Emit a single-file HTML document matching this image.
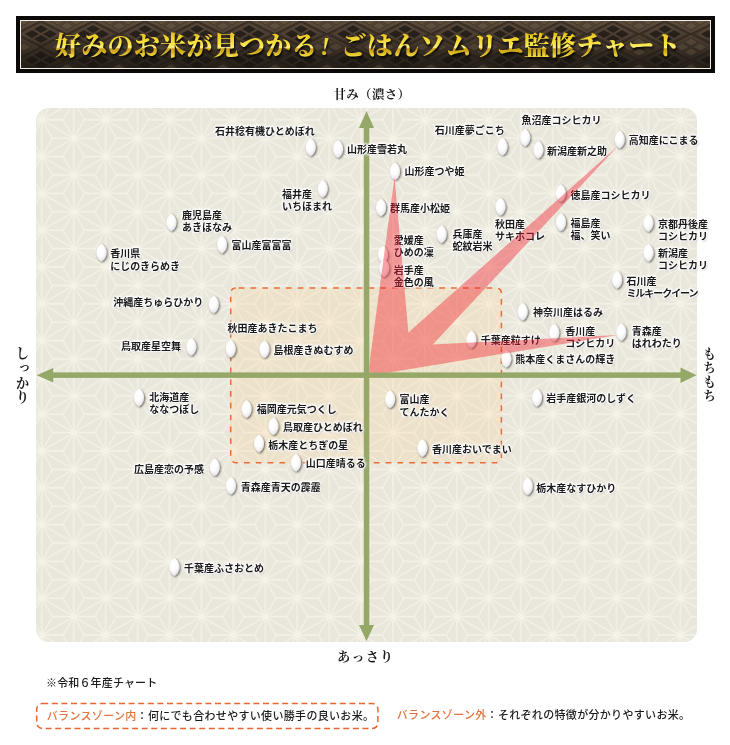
<!DOCTYPE html>
<html lang="ja"><head><meta charset="utf-8"><title>ごはんソムリエ監修チャート</title>
<style>
html,body{margin:0;padding:0;background:#fff;}
body{width:730px;height:745px;position:relative;overflow:hidden;font-family:"Liberation Sans","Noto Sans CJK JP",sans-serif;}
.abs{position:absolute;}
#banner{left:16px;top:16px;width:698.5px;height:56.5px;background:#0b0907;}
#banner .in{position:absolute;left:3.5px;top:3.5px;right:3.5px;bottom:3.5px;border:1px solid #f4efe6;overflow:hidden;background:linear-gradient(#5b4b3b 0%,#4a3c30 35%,#30281f 75%,#26201a 100%);}
#title{left:54.9px;top:19.4px;width:660px;height:56px;line-height:56px;text-align:left;white-space:nowrap;
 font-family:"Liberation Serif","Noto Serif CJK JP","Noto Serif CJK SC",serif;font-weight:900;font-size:26px;letter-spacing:0.3px;}
#title i{font-style:italic;display:inline-block;width:22.6px;text-align:left;text-indent:2px;}
#title .sh{position:absolute;left:0;top:0;width:100%;color:#000;transform:translate(1px,2px);opacity:.85;filter:blur(1px);}
#title .g{position:absolute;left:0;top:0;width:100%;color:transparent;background:linear-gradient(#e3bf22 0%,#e3bf22 24%,#f2d62e 36%,#fae648 46%,#fdf08c 50.5%,#c89d10 53.5%,#d6b01e 59%,#f0d83e 66%,#f0d83e 100%);-webkit-background-clip:text;background-clip:text;filter:drop-shadow(1px 2px 1px rgba(0,0,0,.85));}
.ax{font-family:"Liberation Serif","Noto Serif CJK JP","Noto Serif CJK SC",serif;font-weight:700;color:#1a1a1a;font-size:13px;white-space:nowrap;}
.lb{position:absolute;white-space:nowrap;font-size:10.0px;line-height:12.3px;color:#1a1a1a;font-weight:700;
 text-shadow:0 0 1px #fff,0 0 1px #fff,0 0 2px #fff,0 0 2px #fff,0 0 2px #fff,0 0 2px #fff,0 0 3px #fff,0 0 3px #fff,0 0 3px #fff,0 0 4px #fff,1px 1px 2px rgba(0,0,0,.5);}
.note{font-size:11px;color:#1c1c1c;white-space:nowrap;letter-spacing:0.32px;font-weight:500;}
.or{color:#e2733f;}
</style></head><body>
<div id="banner" class="abs"><div class="in"><svg width="690" height="49" style="position:absolute;left:0;top:0"><defs><pattern id="bp" width="52" height="26" patternUnits="userSpaceOnUse" x="-6" y="0">
<g fill="none" stroke="#1d1813" stroke-width="1.1" stroke-opacity=".75">
<path d="M0 13L26 0L52 13L26 26Z"/><path d="M-26 0L0 -13M0 39L26 26"/>
<path d="M3 13L26 1.5L49 13L26 24.5Z" stroke-opacity=".45"/>
</g>
<g fill="#17130f" fill-opacity=".7">
<path d="M26 4l7 4-7 4-7-4z"/><path d="M26 14l7 4-7 4-7-4z"/><path d="M17 9l7 4-7 4-7-4z"/><path d="M35 9l7 4-7 4-7-4z"/>
</g>
<g fill="#6a5a48" fill-opacity=".35" stroke="#1d1813" stroke-opacity=".5" stroke-width=".8">
<path d="M0 -9l7 4-7 4-7-4z"/><path d="M0 1l7 4-7 4-7-4z"/><path d="M-9 -4l7 4-7 4-7-4z"/><path d="M9 -4l7 4-7 4-7-4z"/>
<path d="M52 -9l7 4-7 4-7-4z"/><path d="M52 1l7 4-7 4-7-4z"/><path d="M43 -4l7 4-7 4-7-4z"/><path d="M61 -4l7 4-7 4-7-4z"/>
<path d="M0 17l7 4-7 4-7-4z"/><path d="M0 27l7 4-7 4-7-4z"/><path d="M-9 22l7 4-7 4-7-4z"/><path d="M9 22l7 4-7 4-7-4z"/>
<path d="M52 17l7 4-7 4-7-4z"/><path d="M52 27l7 4-7 4-7-4z"/><path d="M43 22l7 4-7 4-7-4z"/><path d="M61 22l7 4-7 4-7-4z"/>
</g>
</pattern></defs><rect width="690" height="49" fill="url(#bp)"/></svg></div></div>
<div id="title" class="abs"><div class="g">好みのお米が見つかる<i>!</i>ごはんソムリエ監修チャート</div></div>
<div class="abs ax" id="axt" style="left:333.5px;top:84.8px;line-height:20px;font-size:12.5px;letter-spacing:0.3px;">甘み（濃さ）</div>
<div class="abs ax" id="axb" style="left:337.3px;top:647px;line-height:20px;letter-spacing:1.3px;">あっさり</div>
<div class="abs ax" id="axl" style="left:10.6px;width:20px;top:346px;writing-mode:vertical-rl;line-height:20px;font-size:13.6px;letter-spacing:1.2px;">しっかり</div>
<div class="abs ax" id="axr" style="left:698px;width:20px;top:347px;writing-mode:vertical-rl;line-height:20px;letter-spacing:1px;">もちもち</div>
<svg class="abs" style="left:0;top:0" width="730" height="745" viewBox="0 0 730 745">
<defs>
<pattern id="asa" width="63.86" height="36.80" patternUnits="userSpaceOnUse" x="41.80" y="119.80"><path d="M0.00 0.00L0.00 36.80M0.00 0.00L31.93 18.40M0.00 0.00L31.93 -18.40M0.00 0.00L21.29 0.00M0.00 0.00L-21.29 0.00M0.00 0.00L10.64 18.40M0.00 0.00L10.64 -18.40M0.00 0.00L-10.64 18.40M0.00 0.00L-10.64 -18.40M0.00 36.80L0.00 73.60M0.00 36.80L31.93 55.20M0.00 36.80L31.93 18.40M0.00 36.80L21.29 36.80M0.00 36.80L-21.29 36.80M0.00 36.80L10.64 55.20M0.00 36.80L10.64 18.40M0.00 36.80L-10.64 55.20M0.00 36.80L-10.64 18.40M63.86 0.00L63.86 36.80M63.86 0.00L95.79 18.40M63.86 0.00L95.79 -18.40M63.86 0.00L85.15 0.00M63.86 0.00L42.57 0.00M63.86 0.00L74.50 18.40M63.86 0.00L74.50 -18.40M63.86 0.00L53.22 18.40M63.86 0.00L53.22 -18.40M63.86 36.80L63.86 73.60M63.86 36.80L95.79 55.20M63.86 36.80L95.79 18.40M63.86 36.80L85.15 36.80M63.86 36.80L42.57 36.80M63.86 36.80L74.50 55.20M63.86 36.80L74.50 18.40M63.86 36.80L53.22 55.20M63.86 36.80L53.22 18.40M31.93 18.40L31.93 55.20M31.93 18.40L63.86 36.80M31.93 18.40L63.86 0.00M31.93 18.40L53.22 18.40M31.93 18.40L10.64 18.40M31.93 18.40L42.57 36.80M31.93 18.40L42.57 0.00M31.93 18.40L21.29 36.80M31.93 18.40L21.29 0.00M31.93 -18.40L31.93 18.40M31.93 -18.40L63.86 0.00M31.93 -18.40L63.86 -36.80M31.93 -18.40L53.22 -18.40M31.93 -18.40L10.64 -18.40M31.93 -18.40L42.57 0.00M31.93 -18.40L42.57 -36.80M31.93 -18.40L21.29 0.00M31.93 -18.40L21.29 -36.80M31.93 55.20L31.93 92.00M31.93 55.20L63.86 73.60M31.93 55.20L63.86 36.80M31.93 55.20L53.22 55.20M31.93 55.20L10.64 55.20M31.93 55.20L42.57 73.60M31.93 55.20L42.57 36.80M31.93 55.20L21.29 73.60M31.93 55.20L21.29 36.80M0.00 -36.80L0.00 0.00M0.00 -36.80L31.93 -18.40M0.00 -36.80L31.93 -55.20M0.00 -36.80L21.29 -36.80M0.00 -36.80L-21.29 -36.80M0.00 -36.80L10.64 -18.40M0.00 -36.80L10.64 -55.20M0.00 -36.80L-10.64 -18.40M0.00 -36.80L-10.64 -55.20M0.00 73.60L0.00 110.40M0.00 73.60L31.93 92.00M0.00 73.60L31.93 55.20M0.00 73.60L21.29 73.60M0.00 73.60L-21.29 73.60M0.00 73.60L10.64 92.00M0.00 73.60L10.64 55.20M0.00 73.60L-10.64 92.00M0.00 73.60L-10.64 55.20M63.86 -36.80L63.86 0.00M63.86 -36.80L95.79 -18.40M63.86 -36.80L95.79 -55.20M63.86 -36.80L85.15 -36.80M63.86 -36.80L42.57 -36.80M63.86 -36.80L74.50 -18.40M63.86 -36.80L74.50 -55.20M63.86 -36.80L53.22 -18.40M63.86 -36.80L53.22 -55.20M63.86 73.60L63.86 110.40M63.86 73.60L95.79 92.00M63.86 73.60L95.79 55.20M63.86 73.60L85.15 73.60M63.86 73.60L42.57 73.60M63.86 73.60L74.50 92.00M63.86 73.60L74.50 55.20M63.86 73.60L53.22 92.00M63.86 73.60L53.22 55.20M-31.93 18.40L-31.93 55.20M-31.93 18.40L0.00 36.80M-31.93 18.40L0.00 0.00M-31.93 18.40L-10.64 18.40M-31.93 18.40L-53.22 18.40M-31.93 18.40L-21.29 36.80M-31.93 18.40L-21.29 0.00M-31.93 18.40L-42.57 36.80M-31.93 18.40L-42.57 0.00M95.79 18.40L95.79 55.20M95.79 18.40L127.72 36.80M95.79 18.40L127.72 0.00M95.79 18.40L117.08 18.40M95.79 18.40L74.50 18.40M95.79 18.40L106.43 36.80M95.79 18.40L106.43 0.00M95.79 18.40L85.15 36.80M95.79 18.40L85.15 0.00M-31.93 -18.40L-31.93 18.40M-31.93 -18.40L0.00 0.00M-31.93 -18.40L0.00 -36.80M-31.93 -18.40L-10.64 -18.40M-31.93 -18.40L-53.22 -18.40M-31.93 -18.40L-21.29 0.00M-31.93 -18.40L-21.29 -36.80M-31.93 -18.40L-42.57 0.00M-31.93 -18.40L-42.57 -36.80M-31.93 55.20L-31.93 92.00M-31.93 55.20L0.00 73.60M-31.93 55.20L0.00 36.80M-31.93 55.20L-10.64 55.20M-31.93 55.20L-53.22 55.20M-31.93 55.20L-21.29 73.60M-31.93 55.20L-21.29 36.80M-31.93 55.20L-42.57 73.60M-31.93 55.20L-42.57 36.80M95.79 -18.40L95.79 18.40M95.79 -18.40L127.72 0.00M95.79 -18.40L127.72 -36.80M95.79 -18.40L117.08 -18.40M95.79 -18.40L74.50 -18.40M95.79 -18.40L106.43 0.00M95.79 -18.40L106.43 -36.80M95.79 -18.40L85.15 0.00M95.79 -18.40L85.15 -36.80M95.79 55.20L95.79 92.00M95.79 55.20L127.72 73.60M95.79 55.20L127.72 36.80M95.79 55.20L117.08 55.20M95.79 55.20L74.50 55.20M95.79 55.20L106.43 73.60M95.79 55.20L106.43 36.80M95.79 55.20L85.15 73.60M95.79 55.20L85.15 36.80" fill="none" stroke="#f5f2e8" stroke-width="1.25"/></pattern>
<clipPath id="pc"><rect x="36" y="108" width="661" height="534" rx="13" ry="13"/></clipPath>
<radialGradient id="gg" cx="40%" cy="34%" r="72%"><stop offset="0" stop-color="#fff"/><stop offset=".5" stop-color="#fcfcfc"/><stop offset=".8" stop-color="#ececee"/><stop offset="1" stop-color="#d2d2d6"/></radialGradient>
<filter id="gs" x="-50%" y="-30%" width="220%" height="180%"><feGaussianBlur in="SourceAlpha" stdDeviation="0.9"/><feOffset dx="0.7" dy="1.2"/><feComponentTransfer><feFuncA type="linear" slope=".6"/></feComponentTransfer><feMerge><feMergeNode/><feMergeNode in="SourceGraphic"/></feMerge></filter>
<path id="gr" d="M0,-8.8C2.7,-7.5 5,-3.9 5,0.1C5,4 2.7,7.5 0,8.8C-2.7,7.5 -5,4 -5,0.1C-5,-3.9 -2.7,-7.5 0,-8.8Z"/>
</defs>
<rect x="36" y="108" width="661" height="534" rx="13" ry="13" fill="#e9e6db"/>
<rect x="36" y="108" width="661" height="534" fill="url(#asa)" clip-path="url(#pc)"/>
<rect x="230.7" y="288" width="270.7" height="174.7" rx="5" ry="5" fill="#ffc878" fill-opacity=".17" stroke="#e96d36" stroke-width="1.5" stroke-dasharray="5.7 6.1" stroke-dashoffset="-3"/>
<g fill="#95a868"><rect x="363.8" y="125" width="5.5" height="502"/><rect x="50" y="372.4" width="633" height="5.5"/><path d="M366.5 111L374 128L359 128Z"/><path d="M366.5 641L374 625L359 625Z"/><path d="M36.6 375.2L53.2 367.9L53.2 382.5Z"/><path d="M696.5 375.2L680.5 367.4L680.5 383Z"/></g>
<g fill="url(#gg)" filter="url(#gs)"><use href="#gr" x="310.7" y="147.4"/><use href="#gr" x="338.1" y="149.1"/><use href="#gr" x="322.7" y="188.8"/><use href="#gr" x="171.4" y="222.5"/><use href="#gr" x="222.0" y="244.7"/><use href="#gr" x="101.5" y="252.7"/><use href="#gr" x="213.7" y="304.6"/><use href="#gr" x="191.3" y="346.9"/><use href="#gr" x="230.7" y="348.8"/><use href="#gr" x="264.4" y="349.3"/><use href="#gr" x="139.0" y="397.6"/><use href="#gr" x="246.6" y="409.1"/><use href="#gr" x="273.4" y="426.3"/><use href="#gr" x="259.0" y="443.6"/><use href="#gr" x="296.0" y="462.8"/><use href="#gr" x="214.7" y="467.3"/><use href="#gr" x="230.9" y="485.8"/><use href="#gr" x="174.4" y="567.1"/><use href="#gr" x="502.5" y="146.8"/><use href="#gr" x="525.2" y="137.7"/><use href="#gr" x="538.4" y="150.0"/><use href="#gr" x="619.7" y="139.6"/><use href="#gr" x="395.0" y="171.4"/><use href="#gr" x="560.8" y="193.3"/><use href="#gr" x="381.0" y="207.7"/><use href="#gr" x="500.5" y="206.8"/><use href="#gr" x="561.0" y="222.3"/><use href="#gr" x="648.3" y="223.2"/><use href="#gr" x="441.6" y="234.4"/><use href="#gr" x="383.0" y="254.8"/><use href="#gr" x="648.5" y="253.0"/><use href="#gr" x="384.2" y="268.3"/><use href="#gr" x="617.1" y="279.9"/><use href="#gr" x="522.7" y="311.8"/><use href="#gr" x="554.2" y="332.8"/><use href="#gr" x="621.3" y="332.2"/><use href="#gr" x="471.4" y="339.6"/><use href="#gr" x="506.3" y="358.8"/><use href="#gr" x="390.1" y="399.3"/><use href="#gr" x="537.0" y="397.8"/><use href="#gr" x="422.4" y="448.1"/><use href="#gr" x="527.7" y="486.3"/></g>
<rect x="36.7" y="703.6" width="341.2" height="24.8" rx="5.5" ry="5.5" fill="none" stroke="#e8662f" stroke-width="1.5" stroke-dasharray="6 3.6"/>
</svg>
<div class="lb" style="left:215.1px;top:125.6px">石井稔有機ひとめぼれ</div>
<div class="lb" style="left:347.0px;top:144.1px">山形産雪若丸</div>
<div class="lb" style="left:282.0px;top:189.2px">福井産<br>いちほまれ</div>
<div class="lb" style="left:182.0px;top:210.0px">鹿児島産<br>あきほなみ</div>
<div class="lb" style="left:231.5px;top:240.0px">富山産富富富</div>
<div class="lb" style="left:110.3px;top:248.3px">香川県<br>にじのきらめき</div>
<div class="lb" style="left:113.3px;top:297.1px">沖縄産ちゅらひかり</div>
<div class="lb" style="left:120.9px;top:341.3px">鳥取産星空舞</div>
<div class="lb" style="left:227.4px;top:322.7px">秋田産あきたこまち</div>
<div class="lb" style="left:273.4px;top:345.4px">島根産きぬむすめ</div>
<div class="lb" style="left:149.2px;top:392.0px">北海道産<br>ななつぼし</div>
<div class="lb" style="left:256.7px;top:404.0px">福岡産元気つくし</div>
<div class="lb" style="left:283.0px;top:422.3px">鳥取産ひとめぼれ</div>
<div class="lb" style="left:268.2px;top:439.9px">栃木産とちぎの星</div>
<div class="lb" style="left:305.8px;top:458.4px">山口産晴るる</div>
<div class="lb" style="left:134.1px;top:463.7px">広島産恋の予感</div>
<div class="lb" style="left:240.7px;top:481.9px">青森産青天の霹靂</div>
<div class="lb" style="left:184.0px;top:562.9px">千葉産ふさおとめ</div>
<div class="lb" style="left:434.8px;top:124.5px">石川産夢ごこち</div>
<div class="lb" style="left:521.5px;top:114.7px">魚沼産コシヒカリ</div>
<div class="lb" style="left:547.1px;top:145.8px">新潟産新之助</div>
<div class="lb" style="left:628.8px;top:134.8px">高知産にこまる</div>
<div class="lb" style="left:404.4px;top:166.2px">山形産つや姫</div>
<div class="lb" style="left:570.4px;top:189.6px">徳島産コシヒカリ</div>
<div class="lb" style="left:390.1px;top:202.8px">群馬産小松姫</div>
<div class="lb" style="left:495.0px;top:218.8px">秋田産<br>サキホコレ</div>
<div class="lb" style="left:570.5px;top:218.2px">福島産<br>福、笑い</div>
<div class="lb" style="left:658.0px;top:218.7px">京都丹後産<br>コシヒカリ</div>
<div class="lb" style="left:452.5px;top:228.7px">兵庫産<br>蛇紋岩米</div>
<div class="lb" style="left:393.7px;top:234.8px">愛媛産<br>ひめの凜</div>
<div class="lb" style="left:658.0px;top:247.7px">新潟産<br>コシヒカリ</div>
<div class="lb" style="left:393.8px;top:264.7px">岩手産<br>金色の風</div>
<div class="lb" style="left:626.4px;top:275.6px">石川産<br><span style="letter-spacing:-1.05px">ミルキークイーン</span></div>
<div class="lb" style="left:533.1px;top:306.7px">神奈川産はるみ</div>
<div class="lb" style="left:565.2px;top:325.7px">香川産<br>コシヒカリ</div>
<div class="lb" style="left:631.7px;top:325.7px">青森産<br>はれわたり</div>
<div class="lb" style="left:480.8px;top:334.7px">千葉産粒すけ</div>
<div class="lb" style="left:515.2px;top:353.9px">熊本産くまさんの輝き</div>
<div class="lb" style="left:399.4px;top:394.4px">富山産<br>てんたかく</div>
<div class="lb" style="left:546.2px;top:393.4px">岩手産銀河のしずく</div>
<div class="lb" style="left:432.0px;top:443.7px">香川産おいでまい</div>
<div class="lb" style="left:536.2px;top:482.6px">栃木産なすひかり</div>
<svg class="abs" style="left:0;top:0;pointer-events:none" width="730" height="745" viewBox="0 0 730 745"><defs><clipPath id="rc"><rect x="369.4" y="100" width="330" height="272.5"/></clipPath></defs><path d="M367.8 376L394.5 177L408.4 332.6L618 146L432.8 344.6L617.8 334.9Z" fill="#f4222f" fill-opacity=".41" clip-path="url(#rc)"/></svg>
<div class="abs note" style="left:46px;top:674px;line-height:18px;letter-spacing:0.15px;">※令和６年産チャート</div>
<div class="abs note" style="left:46.8px;top:707px;line-height:18px;"><span class="or">バランスゾーン内</span>：何にでも合わせやすい使い勝手の良いお米。</div>
<div class="abs note" style="left:396.8px;top:706.4px;line-height:18px;"><span class="or">バランスゾーン外</span>：それぞれの特徴が分かりやすいお米。</div>
</body></html>
